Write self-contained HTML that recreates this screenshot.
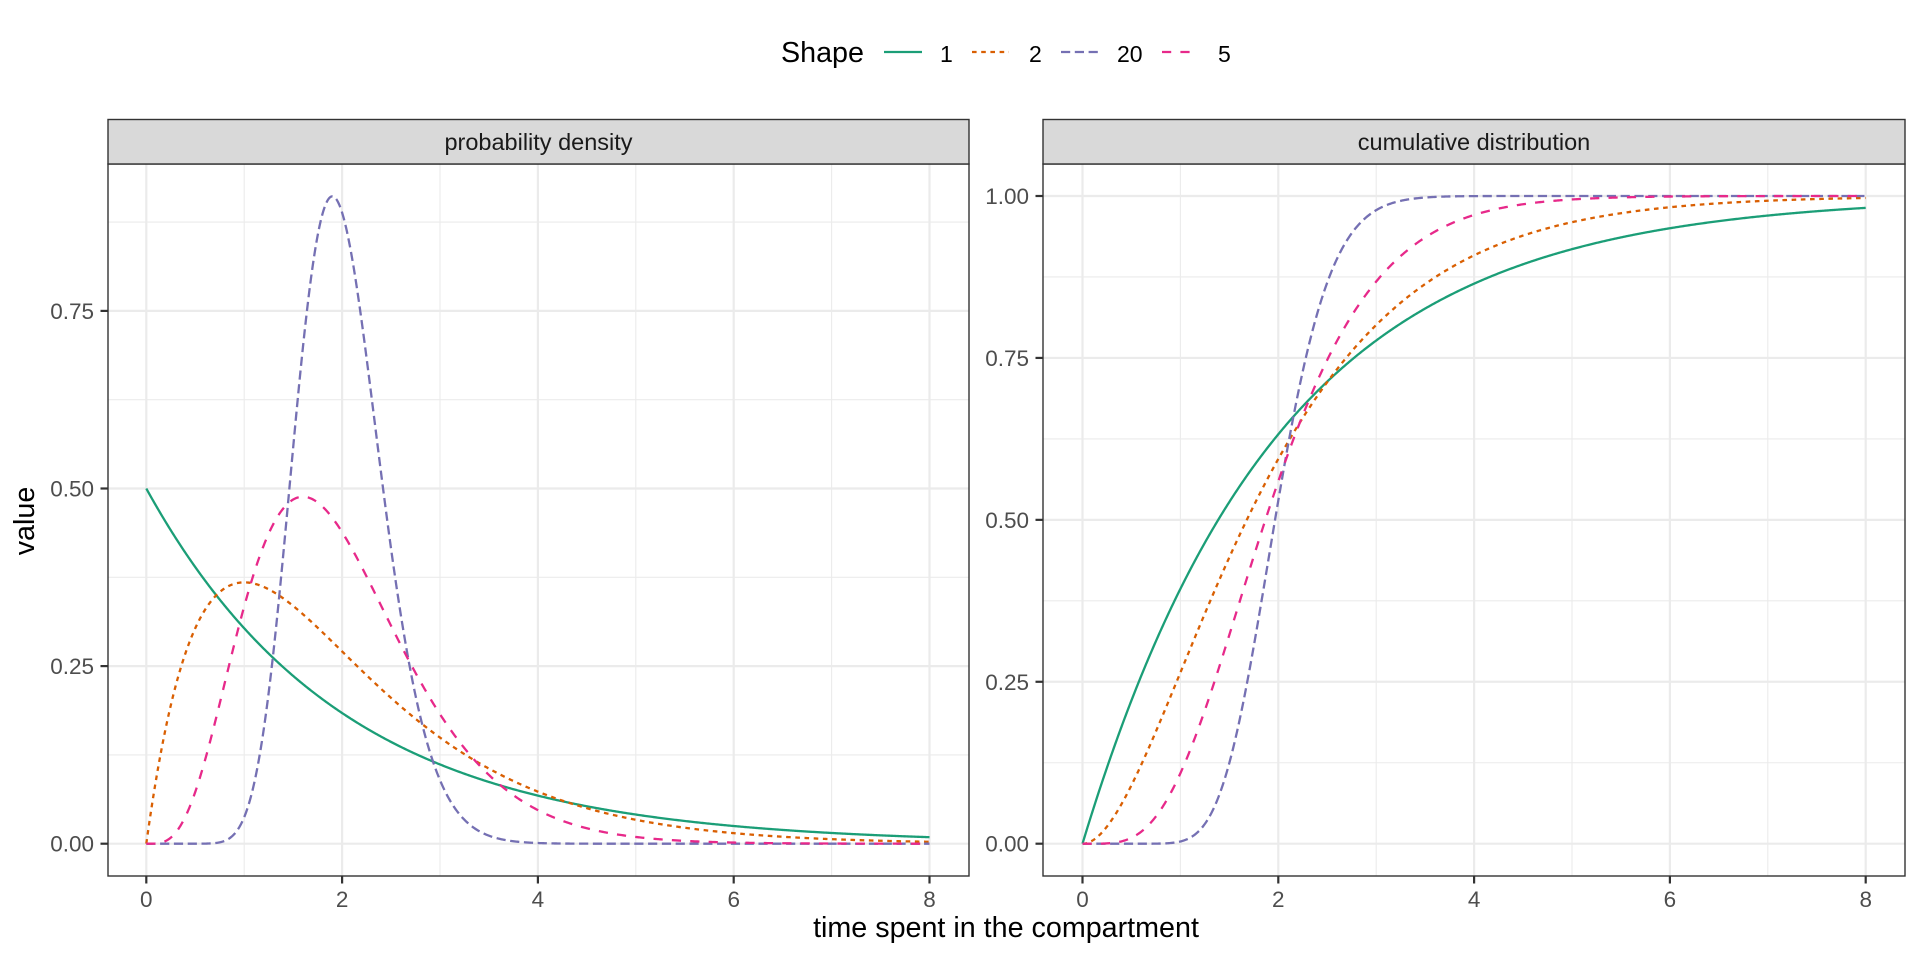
<!DOCTYPE html>
<html><head><meta charset="utf-8"><style>
html,body{margin:0;padding:0;background:#fff;}
svg{display:block;font-family:"Liberation Sans",sans-serif;}
</style></head><body>
<svg id="s" width="1920" height="960" viewBox="0 0 1920 960" xmlns="http://www.w3.org/2000/svg">
<rect width="1920" height="960" fill="#fff"/>
<!-- legend -->
<text x="781" y="62" font-size="28.7" fill="#000">Shape</text>
<line x1="884" y1="52" x2="922" y2="52" stroke="#1B9E77" stroke-width="2.3"/>
<text x="940" y="62" font-size="23" fill="#000">1</text>
<line x1="972" y1="52" x2="1009" y2="52" stroke="#D95F02" stroke-width="2.3" stroke-dasharray="4.6 4.6"/>
<text x="1029" y="62" font-size="23" fill="#000">2</text>
<line x1="1061" y1="52" x2="1098" y2="52" stroke="#7570B3" stroke-width="2.3" stroke-dasharray="9.2 4.6"/>
<text x="1117" y="62" font-size="23" fill="#000">20</text>
<line x1="1162" y1="52" x2="1198" y2="52" stroke="#E7298A" stroke-width="2.3" stroke-dasharray="9.2 9.2"/>
<text x="1218" y="62" font-size="23" fill="#000">5</text>
<g id="g"></g>
<text x="1006" y="937" font-size="28.7" fill="#000" text-anchor="middle">time spent in the compartment</text>
<text transform="translate(34,521) rotate(-90)" font-size="28.7" fill="#000" text-anchor="middle">value</text>
</svg>
<script>
(function(){
var g=document.getElementById('g'),h='';
function fact(n){var f=1;for(var i=2;i<=n;i++)f*=i;return f;}
function pdf(k,x){var r=k/2;if(x<=0)return k==1?0.5:0;return Math.pow(x,k-1)*Math.exp(-r*x)*Math.pow(r,k)/fact(k-1);}
function cdf(k,x){var r=k/2,s=0;for(var n=0;n<k;n++)s+=Math.pow(r*x,n)/fact(n);return 1-Math.exp(-r*x)*s;}
var panels=[
 {x0:108,x1:969,xz:146.3,ys:710.4,ticks:[0,0.25,0.5,0.75],minor:[0.125,0.375,0.625,0.875],lab:['0.00','0.25','0.50','0.75'],f:pdf,title:'probability density'},
 {x0:1043,x1:1905,xz:1082.5,ys:647.7,ticks:[0,0.25,0.5,0.75,1],minor:[0.125,0.375,0.625,0.875],lab:['0.00','0.25','0.50','0.75','1.00'],f:cdf,title:'cumulative distribution'}];
var top=164,bot=876,y0=843.7,xs=97.9;
var ser=[[1,'#1B9E77','none'],[2,'#D95F02','4.6 4.6'],[20,'#7570B3','9.2 4.6'],[5,'#E7298A','9.2 9.2']];
panels.forEach(function(p){
 h+='<rect x="'+p.x0+'" y="'+top+'" width="'+(p.x1-p.x0)+'" height="'+(bot-top)+'" fill="#fff"/>';
 p.minor.forEach(function(v){var y=y0-v*p.ys;if(y>top)h+='<line x1="'+p.x0+'" x2="'+p.x1+'" y1="'+y+'" y2="'+y+'" stroke="#EBEBEB" stroke-width="1.1"/>';});
 [1,3,5,7].forEach(function(v){var x=p.xz+v*xs;h+='<line x1="'+x+'" x2="'+x+'" y1="'+top+'" y2="'+bot+'" stroke="#EBEBEB" stroke-width="1.1"/>';});
 p.ticks.forEach(function(v,i){var y=y0-v*p.ys;h+='<line x1="'+p.x0+'" x2="'+p.x1+'" y1="'+y+'" y2="'+y+'" stroke="#EBEBEB" stroke-width="2.2"/>';
  h+='<line x1="'+(p.x0-7.5)+'" x2="'+p.x0+'" y1="'+y+'" y2="'+y+'" stroke="#333" stroke-width="2.2"/>';
  h+='<text x="'+(p.x0-14)+'" y="'+(y+8)+'" font-size="22.5" fill="#4D4D4D" text-anchor="end">'+p.lab[i]+'</text>';});
 [0,2,4,6,8].forEach(function(v){var x=p.xz+v*xs;h+='<line x1="'+x+'" x2="'+x+'" y1="'+top+'" y2="'+bot+'" stroke="#EBEBEB" stroke-width="2.2"/>';
  h+='<line x1="'+x+'" x2="'+x+'" y1="'+bot+'" y2="'+(bot+7.5)+'" stroke="#333" stroke-width="2.2"/>';
  h+='<text x="'+x+'" y="907" font-size="22.5" fill="#4D4D4D" text-anchor="middle">'+v+'</text>';});
 ser.forEach(function(s){var d='';for(var i=0;i<=800;i++){var x=i/100;var v=p.f(s[0],x);d+=(i?'L':'M')+(p.xz+x*xs).toFixed(2)+' '+(y0-v*p.ys).toFixed(2);}
  h+='<path d="'+d+'" fill="none" stroke="'+s[1]+'" stroke-width="2.3"'+(s[2]!='none'?' stroke-dasharray="'+s[2]+'"':'')+'/>';});
 h+='<rect x="'+p.x0+'" y="'+top+'" width="'+(p.x1-p.x0)+'" height="'+(bot-top)+'" fill="none" stroke="#333" stroke-width="1.4"/>';
 h+='<rect x="'+p.x0+'" y="119.5" width="'+(p.x1-p.x0)+'" height="44.5" fill="#D9D9D9" stroke="#333" stroke-width="1.4"/>';
 h+='<text x="'+((p.x0+p.x1)/2)+'" y="150" font-size="23.5" fill="#1A1A1A" text-anchor="middle">'+p.title+'</text>';
});
g.innerHTML=h;
})();
</script>
</body></html>
